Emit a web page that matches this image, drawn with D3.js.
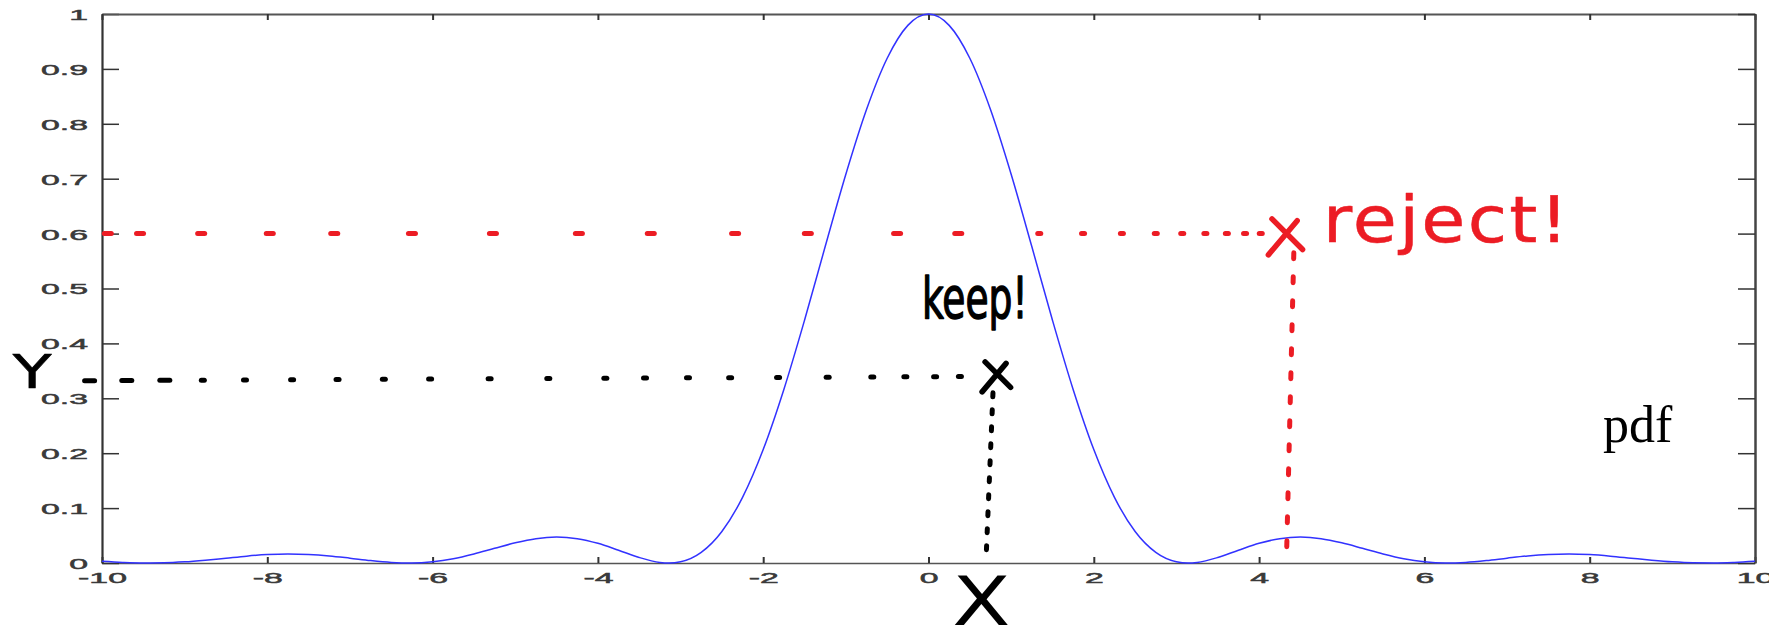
<!DOCTYPE html>
<html>
<head>
<meta charset="utf-8">
<script src="https://cdn.jsdelivr.net/npm/d3@7"></script>
<style>
  html, body { margin: 0; padding: 0; background: #fff; }
  svg { display: block; }
</style>
</head>
<body>
<svg id="chart" width="1769" height="632"></svg>
<script>
// Sampled density curve (x, pdf value)
const xValues = [
  -10, -9.75, -9.5, -9.25, -9, -8.75, -8.5, -8.25, -8, -7.75, -7.5, -7.25, -7, -6.75, -6.5, -6.25,
  -6, -5.75, -5.5, -5.25, -5, -4.75, -4.5, -4.25, -4, -3.75, -3.5, -3.25, -3.14, -3, -2.75, -2.5,
  -2.25, -2, -1.75, -1.5, -1.25, -1, -0.75, -0.5, -0.25, 0,
  0.25, 0.5, 0.75, 1, 1.25, 1.5, 1.75, 2, 2.25, 2.5, 2.75, 3, 3.14, 3.25, 3.5, 3.75, 4, 4.25,
  4.5, 4.75, 5, 5.25, 5.5, 5.75, 6, 6.25, 6.5, 6.75, 7, 7.25, 7.5, 7.75, 8, 8.25, 8.5, 8.75,
  9, 9.25, 9.5, 9.75, 10
];
const pdfValues = [
  0.0030, 0.0011, 0.0001, 0.0004, 0.0021, 0.0051, 0.0088, 0.0125, 0.0153, 0.0165, 0.0156, 0.0129, 0.0088, 0.0044, 0.0011, 0.0000,
  0.0022, 0.0078, 0.0165, 0.0268, 0.0368, 0.0443, 0.0472, 0.0443, 0.0358, 0.0232, 0.0100, 0.0011, 0.0000, 0.0022, 0.0193, 0.0573,
  0.1196, 0.2067, 0.3162, 0.4422, 0.5764, 0.7081, 0.8260, 0.9194, 0.9793, 1.0000,
  0.9793, 0.9194, 0.8260, 0.7081, 0.5764, 0.4422, 0.3162, 0.2067, 0.1196, 0.0573, 0.0193, 0.0022, 0.0000, 0.0011, 0.0100, 0.0232, 0.0358, 0.0443,
  0.0472, 0.0443, 0.0368, 0.0268, 0.0165, 0.0078, 0.0022, 0.0000, 0.0011, 0.0044, 0.0088, 0.0129, 0.0156, 0.0165, 0.0153, 0.0125, 0.0088, 0.0051,
  0.0021, 0.0004, 0.0001, 0.0011, 0.0030
];

const xTicks = [-10, -8, -6, -4, -2, 0, 2, 4, 6, 8, 10];
const xTickLabels = ["-10", "-8", "-6", "-4", "-2", "0", "2", "4", "6", "8", "10"];
const yTicks = [0, 0.1, 0.2, 0.3, 0.4, 0.5, 0.6, 0.7, 0.8, 0.9, 1];
const yTickLabels = ["0", "0.1", "0.2", "0.3", "0.4", "0.5", "0.6", "0.7", "0.8", "0.9", "1"];

// Rejected sample: guide dots along y = 0.6, then down to the x axis
const rejectLevel = 0.6;
const rejectDotsX = [-9.93, -9.54, -8.80, -7.97, -7.19, -6.25, -5.27, -4.23, -3.36, -2.34, -1.46, -0.38, 0.36,
                     1.34, 1.87, 2.34, 2.75, 3.07, 3.35, 3.61, 3.83, 4.02];
const rejectPoint = [4.33, 0.594];
const rejectDrop = [[4.42, 0.565], [4.33, 0.0]];

// Kept sample: guide dots along y ≈ 0.335, then down to the x axis
const keepLevel = [0.332, 0.340];
const keepDotsX = [-10.15, -9.70, -9.24, -8.78, -8.27, -7.70, -7.15, -6.59, -6.03, -5.31, -4.60, -3.91,
                   -3.43, -2.91, -2.40, -1.82, -1.22, -0.68, -0.28, 0.08, 0.38];
const keepPoint = [0.83, 0.339];
const keepDrop = [[0.78, 0.31], [0.70, 0.02]];

const svg = d3.select("#chart");
const plotLeft = 102, plotRight = 1755, plotTop = 14, plotBottom = 563;

const x = d3.scaleLinear().domain([-10, 10]).range([plotLeft, plotRight]);
const y = d3.scaleLinear().domain([0, 1]).range([plotBottom, plotTop]);

const axisFont = "'Liberation Sans', Arial, Helvetica, sans-serif";
const axisFontSize = 15;
const labelStretch = 2.25;   // tick labels are drawn wide

// Widen every label of a tick selection to labelStretch times its natural width
function stretchLabels(texts) {
  texts.each(function () {
    const natural = this.getComputedTextLength();
    if (natural > 0) {
      d3.select(this)
        .attr("textLength", natural * labelStretch)
        .attr("lengthAdjust", "spacingAndGlyphs");
    }
  });
}

// Bottom axis with labels
const gx = svg.append("g")
  .attr("transform", `translate(0,${plotBottom})`)
  .call(d3.axisBottom(x).tickValues(xTicks).tickFormat((d, i) => xTickLabels[i])
    .tickSizeInner(-6).tickSizeOuter(0));
gx.attr("font-size", axisFontSize).attr("font-family", axisFont);
gx.select(".domain").attr("stroke", "#555").attr("stroke-width", 1.3);
gx.selectAll(".tick line").attr("stroke", "#333").attr("stroke-width", 2);
gx.selectAll(".tick text").attr("fill", "#3a3a3a").attr("stroke", "#3a3a3a").attr("stroke-width", 0.5)
  .attr("y", 9).attr("dy", "0.71em").call(stretchLabels);

// Left axis with labels
const gy = svg.append("g")
  .attr("transform", `translate(${plotLeft},0)`)
  .call(d3.axisLeft(y).tickValues(yTicks).tickFormat((d, i) => yTickLabels[i])
    .tickSizeInner(-17).tickSizeOuter(0));
gy.attr("font-size", axisFontSize).attr("font-family", axisFont);
gy.select(".domain").attr("stroke", "#333").attr("stroke-width", 2.2);
gy.selectAll(".tick line").attr("stroke", "#333").attr("stroke-width", 1.5);
gy.selectAll(".tick text").attr("fill", "#3a3a3a").attr("stroke", "#3a3a3a").attr("stroke-width", 0.5)
  .attr("x", -14).attr("dy", "0.36em").call(stretchLabels);

// Top and right box edges with inward ticks
const gt = svg.append("g")
  .attr("transform", `translate(0,${plotTop})`)
  .call(d3.axisTop(x).tickValues(xTicks).tickFormat("").tickSizeInner(-6).tickSizeOuter(0));
gt.select(".domain").attr("stroke", "#555").attr("stroke-width", 2);
gt.selectAll(".tick line").attr("stroke", "#333").attr("stroke-width", 2);

const gr = svg.append("g")
  .attr("transform", `translate(${plotRight},0)`)
  .call(d3.axisRight(y).tickValues(yTicks).tickFormat("").tickSizeInner(-17).tickSizeOuter(0));
gr.select(".domain").attr("stroke", "#444").attr("stroke-width", 2.5);
gr.selectAll(".tick line").attr("stroke", "#333").attr("stroke-width", 1.5);

// Density curve
const curve = xValues.map((v, i) => [v, pdfValues[i]]);
svg.append("path")
  .datum(curve)
  .attr("fill", "none")
  .attr("stroke", "#3232ff")
  .attr("stroke-width", 1.5)
  .attr("d", d3.line().x(d => x(d[0])).y(d => y(d[1])).curve(d3.curveMonotoneX));

// Hand-drawn style annotations
const red = "#ec1c24";
const ink = "#000";

function dots(xs, yAt, color, longCount, longHalf) {
  svg.append("g").selectAll("line")
    .data(xs)
    .join("line")
    .attr("x1", (d, i) => x(d) - (i < longCount ? longHalf : 1.5))
    .attr("x2", (d, i) => x(d) + (i < longCount ? longHalf : 1.5))
    .attr("y1", d => y(yAt(d)))
    .attr("y2", d => y(yAt(d)))
    .attr("stroke", color)
    .attr("stroke-width", 5)
    .attr("stroke-linecap", "round");
}

function drop(seg, color, dash) {
  svg.append("line")
    .attr("x1", x(seg[0][0])).attr("y1", y(seg[0][1]))
    .attr("x2", x(seg[1][0])).attr("y2", y(seg[1][1]))
    .attr("stroke", color).attr("stroke-width", 5)
    .attr("stroke-linecap", "round")
    .attr("stroke-dasharray", dash);
}

function cross(p, color, size) {
  const cx = x(p[0]), cy = y(p[1]);
  svg.append("path")
    .attr("d", `M${cx - size * 0.8},${cy - size}L${cx + size * 0.9},${cy + size * 0.7}` +
               `M${cx + size * 0.6},${cy - size * 0.9}L${cx - size},${cy + size}`)
    .attr("fill", "none").attr("stroke", color).attr("stroke-width", 5.5)
    .attr("stroke-linecap", "round");
}

dots(rejectDotsX, () => rejectLevel, red, 13, 3.5);
drop(rejectDrop, red, "6 18");
cross(rejectPoint, red, 18);

const keepLine = d3.scaleLinear().domain([keepDotsX[0], keepPoint[0]]).range(keepLevel);
dots(keepDotsX, d => keepLine(d), ink, 3, 5);
drop(keepDrop, ink, "4 13");
cross(keepPoint, ink, 15);

const handFont = "'DejaVu Sans', 'Noto Sans', sans-serif";

svg.append("text")
  .attr("transform", `translate(${x(4.77)},${y(0.585)}) scale(1.12,1)`)
  .attr("font-family", handFont).attr("font-size", 64)
  .attr("fill", red).attr("stroke", red).attr("stroke-width", 0.5).attr("stroke-linejoin", "round")
  .attr("letter-spacing", 2)
  .text("reject!");

svg.append("text")
  .attr("transform", `translate(${x(-0.08)},${y(0.446)}) scale(0.66,1)`)
  .attr("font-family", handFont).attr("font-size", 57)
  .attr("fill", ink).attr("stroke", ink).attr("stroke-width", 1.5).attr("stroke-linejoin", "round")
  .text("keep!");

svg.append("text")
  .attr("transform", `translate(${x(keepDrop[1][0]) - 5},625) scale(1.25,1)`)
  .attr("text-anchor", "middle")
  .attr("font-family", handFont).attr("font-size", 68)
  .attr("fill", ink)
  .text("X");

svg.append("text")
  .attr("transform", `translate(32,388) scale(1.35,1)`)
  .attr("text-anchor", "middle")
  .attr("font-family", handFont).attr("font-size", 47)
  .attr("fill", ink).attr("stroke", ink).attr("stroke-width", 0.6).attr("stroke-linejoin", "round")
  .text("Y");

svg.append("text")
  .attr("x", x(8.16)).attr("y", y(0.22))
  .attr("font-family", "'Liberation Serif', 'Times New Roman', serif")
  .attr("font-size", 52)
  .attr("fill", "#000")
  .text("pdf");
</script>
</body>
</html>
